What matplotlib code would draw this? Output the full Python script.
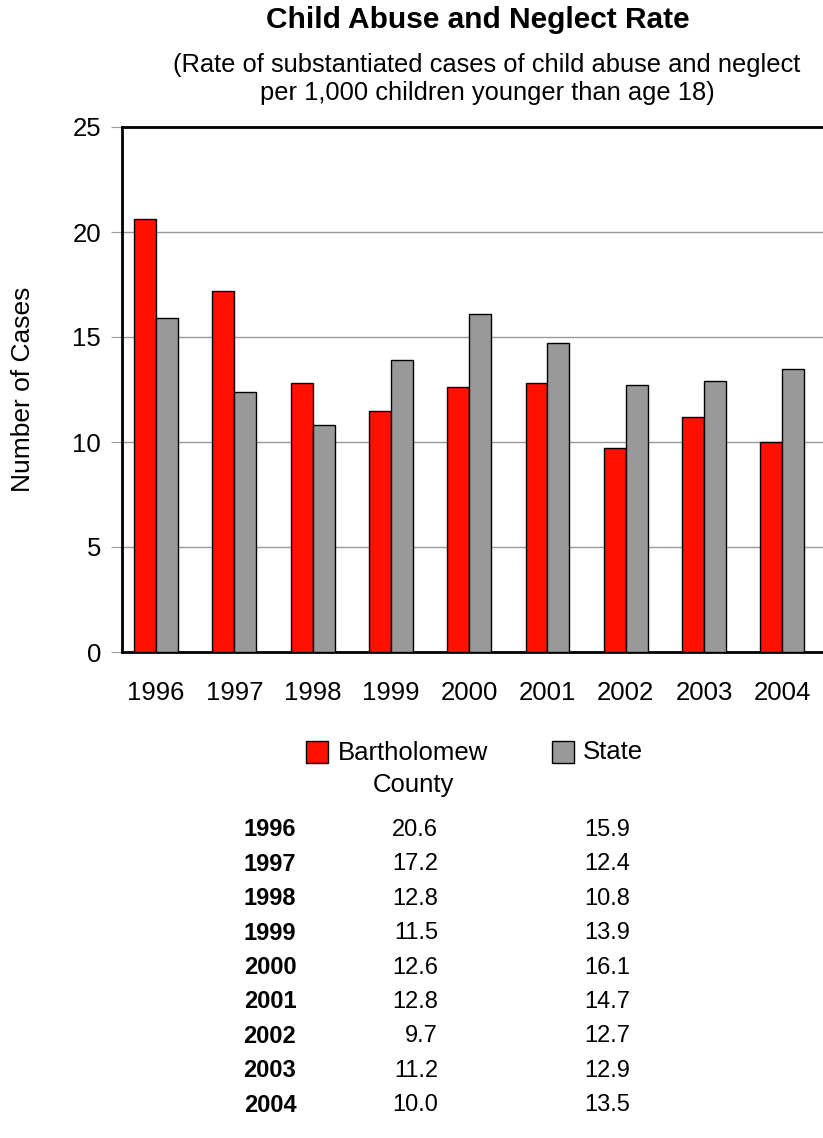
import matplotlib.pyplot as plt
import numpy as np

plt.rcParams['font.family'] = ['Liberation Sans', 'DejaVu Sans']

years = ['1996', '1997', '1998', '1999', '2000', '2001', '2002', '2003', '2004']
county = [20.6, 17.2, 12.8, 11.5, 12.6, 12.8, 9.7, 11.2, 10.0]
state = [15.9, 12.4, 10.8, 13.9, 16.1, 14.7, 12.7, 12.9, 13.5]
y_ticks = [0, 5, 10, 15, 20, 25]

W, H = 823, 1138
fig = plt.figure(figsize=(W / 100, H / 100), dpi=100)
ax = fig.add_axes([122 / W, 1 - 652 / H, 701 / W, 525 / H])

x = np.arange(len(years))
bw = 0.28
ax.bar(x - bw / 2, county, bw, color='#ff1000', edgecolor='black', linewidth=1, zorder=3)
ax.bar(x + bw / 2, state, bw, color='#999999', edgecolor='black', linewidth=1, zorder=3)

ax.set_xlim(-0.435, 8.52)
ax.set_ylim(0, 25)
ax.set_yticks(y_ticks)
ax.yaxis.grid(True, color='#999999', linewidth=1, zorder=0)
ax.tick_params(axis='y', length=8, color='#999999', labelsize=18.5, pad=7)
ax.set_xticks(x)
ax.set_xticklabels(years)
ax.tick_params(axis='x', length=0, labelsize=18.5, pad=21)
for s in ['left', 'top', 'bottom']:
    ax.spines[s].set_linewidth(2)
ax.spines['right'].set_visible(False)
ax.set_ylabel('Number of Cases', fontsize=19)
ax.yaxis.set_label_coords((23 - 122) / 701, 0.5)
ax.yaxis.label.set_va('center')

fig.text(478 / W, 1 - 20 / H, 'Child Abuse and Neglect Rate', ha='center', va='center',
         fontsize=21.5, fontweight='bold')
fig.text(487 / W, 1 - 79 / H,
         '(Rate of substantiated cases of child abuse and neglect\nper 1,000 children younger than age 18)',
         ha='center', va='center', fontsize=18.4, linespacing=1.25)

# legend
fig.patches.append(plt.Rectangle((306 / W, 1 - 763 / H), 22 / W, 22 / H, transform=fig.transFigure,
                                 facecolor='#ff1000', edgecolor='black', linewidth=1))
fig.text(338 / W, 1 - 769 / H, 'Bartholomew\nCounty', ha='left', va='center', fontsize=18.5,
         multialignment='center', linespacing=1.38)
fig.patches.append(plt.Rectangle((552 / W, 1 - 763 / H), 22 / W, 22 / H, transform=fig.transFigure,
                                 facecolor='#999999', edgecolor='black', linewidth=1))
fig.text(583 / W, 1 - 752 / H, 'State', ha='left', va='center', fontsize=18.5)

# data table
for i, yr in enumerate(years):
    yy = 1 - (830 + i * 34.4) / H
    fig.text(270 / W, yy, yr, ha='center', va='center', fontsize=17, fontweight='bold')
    fig.text(438 / W, yy, f'{county[i]:.1f}', ha='right', va='center', fontsize=17)
    fig.text(630 / W, yy, f'{state[i]:.1f}', ha='right', va='center', fontsize=17)

fig.savefig('out.png', dpi=100)
